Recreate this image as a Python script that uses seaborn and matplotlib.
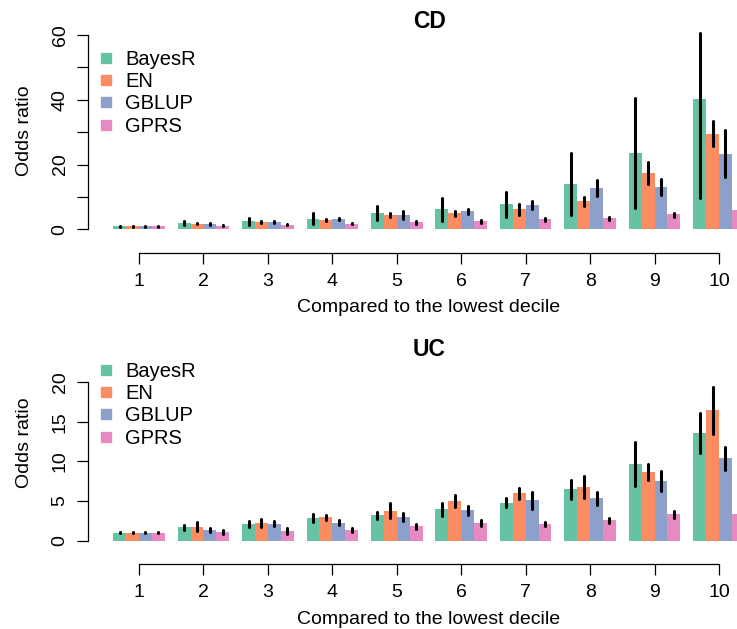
import numpy as np
import pandas as pd
import matplotlib
matplotlib.use("Agg")
import matplotlib.pyplot as plt
from matplotlib.lines import Line2D
from matplotlib.ticker import FixedLocator
import seaborn as sns

# deciles and methods
deciles = [str(d) for d in range(1, 11)]
methods = ["BayesR", "EN", "GBLUP", "GPRS"]

# CD odds ratios
cd_bayesr = [1.0, 2.05, 2.7, 3.2, 4.9, 6.15, 7.7, 13.85, 23.7, 40.3]
cd_en = [1.0, 1.75, 2.35, 2.9, 4.3, 4.9, 6.15, 8.6, 17.5, 29.5]
cd_gblup = [1.0, 1.65, 2.25, 3.2, 4.3, 5.5, 7.4, 12.9, 13.2, 23.4]
cd_gprs = [1.0, 1.1, 1.4, 1.75, 2.15, 2.45, 3.1, 3.4, 4.6, 5.85]

cd_bayesr_lo = [0.85, 1.25, 1.3, 1.6, 2.9, 2.7, 3.9, 4.3, 6.5, 9.7]
cd_bayesr_hi = [1.15, 2.7, 3.4, 4.9, 7.2, 9.8, 11.5, 23.6, 40.5, 60.7]
cd_en_lo = [0.85, 1.5, 2.1, 2.6, 3.9, 4.1, 4.3, 7.2, 14.05, 25.6]
cd_en_hi = [1.15, 2.0, 2.6, 3.2, 5.1, 5.7, 7.8, 9.85, 20.8, 33.3]
cd_gblup_lo = [0.85, 1.4, 2.0, 2.9, 3.1, 4.7, 6.15, 10.3, 10.7, 16.1]
cd_gblup_hi = [1.15, 1.9, 2.5, 3.6, 5.5, 6.15, 8.6, 15.3, 15.4, 30.8]
cd_gprs_lo = [0.85, 0.9, 1.2, 1.5, 1.6, 2.05, 2.45, 2.9, 3.9, 5.0]
cd_gprs_hi = [1.15, 1.3, 1.6, 2.0, 2.7, 2.9, 3.5, 3.9, 5.1, 6.8]

# UC odds ratios
uc_bayesr = [1.0, 1.72, 2.15, 2.85, 3.25, 4.0, 4.75, 6.5, 9.65, 13.55]
uc_en = [1.0, 1.72, 2.2, 3.0, 3.75, 5.0, 6.0, 6.75, 8.65, 16.45]
uc_gblup = [1.0, 1.35, 2.1, 2.2, 3.0, 3.85, 5.1, 5.4, 7.5, 10.4]
uc_gprs = [1.0, 1.1, 1.2, 1.35, 1.85, 2.2, 2.1, 2.6, 3.35, 3.35]

uc_bayesr_lo = [0.94, 1.35, 1.75, 2.3, 2.75, 3.15, 4.2, 5.3, 6.9, 11.1]
uc_bayesr_hi = [1.06, 2.0, 2.5, 3.35, 3.65, 4.75, 5.4, 7.6, 12.5, 16.1]
uc_en_lo = [0.94, 1.25, 1.75, 2.6, 2.85, 4.3, 5.3, 5.35, 7.65, 13.5]
uc_en_hi = [1.06, 2.3, 2.7, 3.3, 4.7, 5.75, 6.7, 8.1, 9.65, 19.4]
uc_gblup_lo = [0.94, 1.05, 1.8, 2.0, 2.45, 3.3, 4.05, 4.45, 6.3, 8.9]
uc_gblup_hi = [1.06, 1.65, 2.45, 2.55, 3.55, 4.4, 6.2, 6.2, 8.8, 11.75]
uc_gprs_lo = [0.94, 0.85, 0.9, 1.05, 1.45, 1.85, 1.8, 2.25, 2.9, 2.9]
uc_gprs_hi = [1.06, 1.4, 1.55, 1.65, 2.15, 2.55, 2.35, 2.85, 3.75, 3.8]

W, H = 737, 629
sns.set_style("ticks")
plt.rcParams["font.family"] = ["Liberation Sans", "DejaVu Sans"]
for key in ["text.color", "axes.labelcolor", "xtick.color", "ytick.color", "axes.edgecolor"]:
    plt.rcParams[key] = "black"
palette = sns.color_palette("Set2", 4)


def make_df(vals, los, his):
    rows = []
    for m, v, lo, hi in zip(methods, vals, los, his):
        for d, a, b, c in zip(deciles, v, lo, hi):
            rows.append({"decile": d, "method": m, "odds": a, "lo": b, "hi": c})
    return pd.DataFrame(rows)


def draw_panel(ax, df, ylim, ymax, major, minor):
    sns.barplot(data=df, x="decile", y="odds", hue="method", order=deciles,
                hue_order=methods, palette=palette, saturation=1, errorbar=None,
                width=0.8, gap=0, linewidth=0, edgecolor="none", legend=False, ax=ax)
    # confidence intervals as plain black segments
    for cont, m in zip(ax.containers, methods):
        sub = df[df["method"] == m].set_index("decile").loc[deciles]
        xs = [b.get_x() + b.get_width() / 2 for b in cont]
        ax.vlines(xs, sub["lo"].values, sub["hi"].values, color="black",
                  lw=2.2, capstyle="round", zorder=3)
    ax.set_xlim(-0.791, 9.791)
    ax.set_ylim(*ylim)
    ax.set_xlabel("")
    ax.set_ylabel("")
    for s in ["top", "right"]:
        ax.spines[s].set_visible(False)
    ax.spines["left"].set_bounds(0, ymax)
    ax.spines["bottom"].set_bounds(0, 9)
    for s in ["left", "bottom"]:
        ax.spines[s].set_linewidth(0.9)
        ax.spines[s].set_color("black")
    ax.set_xticks(range(10))
    ax.set_xticklabels(deciles)
    ax.yaxis.set_major_locator(FixedLocator(major))
    ax.yaxis.set_minor_locator(FixedLocator(minor))
    ax.tick_params(which="both", length=8, width=0.9, color="black",
                   labelsize=14, pad=6, labelcolor="black")
    ax.tick_params(axis="y", labelrotation=90)
    plt.setp(ax.get_yticklabels(), va="center")
    handles = [Line2D([], [], marker="s", ls="", color=c, markersize=6.8) for c in palette]
    return handles


fig = plt.figure(figsize=(W / 100, H / 100), dpi=100)

# top panel (CD)
ax1 = fig.add_axes([88 / W, 1 - 253.3 / H, (770 - 88) / W, (253.3 - 27) / H])
h = draw_panel(ax1, make_df([cd_bayesr, cd_en, cd_gblup, cd_gprs],
                            [cd_bayesr_lo, cd_en_lo, cd_gblup_lo, cd_gprs_lo],
                            [cd_bayesr_hi, cd_en_hi, cd_gblup_hi, cd_gprs_hi]),
               (-7.41, 62.47), 60, [0, 20, 40, 60], [10, 30, 50])
fig.legend(h, methods, loc="upper left", bbox_to_anchor=(98 / W, 1 - 50 / H),
           frameon=False, fontsize=14.5, handlelength=0.8, handletextpad=0.55,
           labelspacing=0.16, borderpad=0, borderaxespad=0)

# bottom panel (UC)
ax2 = fig.add_axes([88 / W, 1 - 564.3 / H, (770 - 88) / W, (564.3 - 340) / H])
h = draw_panel(ax2, make_df([uc_bayesr, uc_en, uc_gblup, uc_gprs],
                            [uc_bayesr_lo, uc_en_lo, uc_gblup_lo, uc_gprs_lo],
                            [uc_bayesr_hi, uc_en_hi, uc_gblup_hi, uc_gprs_hi]),
               (-2.974, 25.3), 20, [0, 5, 10, 15, 20], [])
fig.legend(h, methods, loc="upper left", bbox_to_anchor=(98 / W, 1 - 362 / H),
           frameon=False, fontsize=14.5, handlelength=0.8, handletextpad=0.55,
           labelspacing=0.16, borderpad=0, borderaxespad=0)

# titles and axis labels
for ty, title in [(21.7, "CD"), (350, "UC")]:
    fig.text(429.5 / W, 1 - ty / H, title, ha="center", va="center",
             fontsize=16.5, fontweight="bold")
for ly in [131, 442.5]:
    fig.text(24.5 / W, 1 - ly / H, "Odds ratio", ha="center", va="center",
             rotation=90, fontsize=14)
for xy in [308, 619.5]:
    fig.text(429 / W, 1 - xy / H, "Compared to the lowest decile",
             ha="center", va="center", fontsize=14)

fig.savefig("out.png", dpi=100)
